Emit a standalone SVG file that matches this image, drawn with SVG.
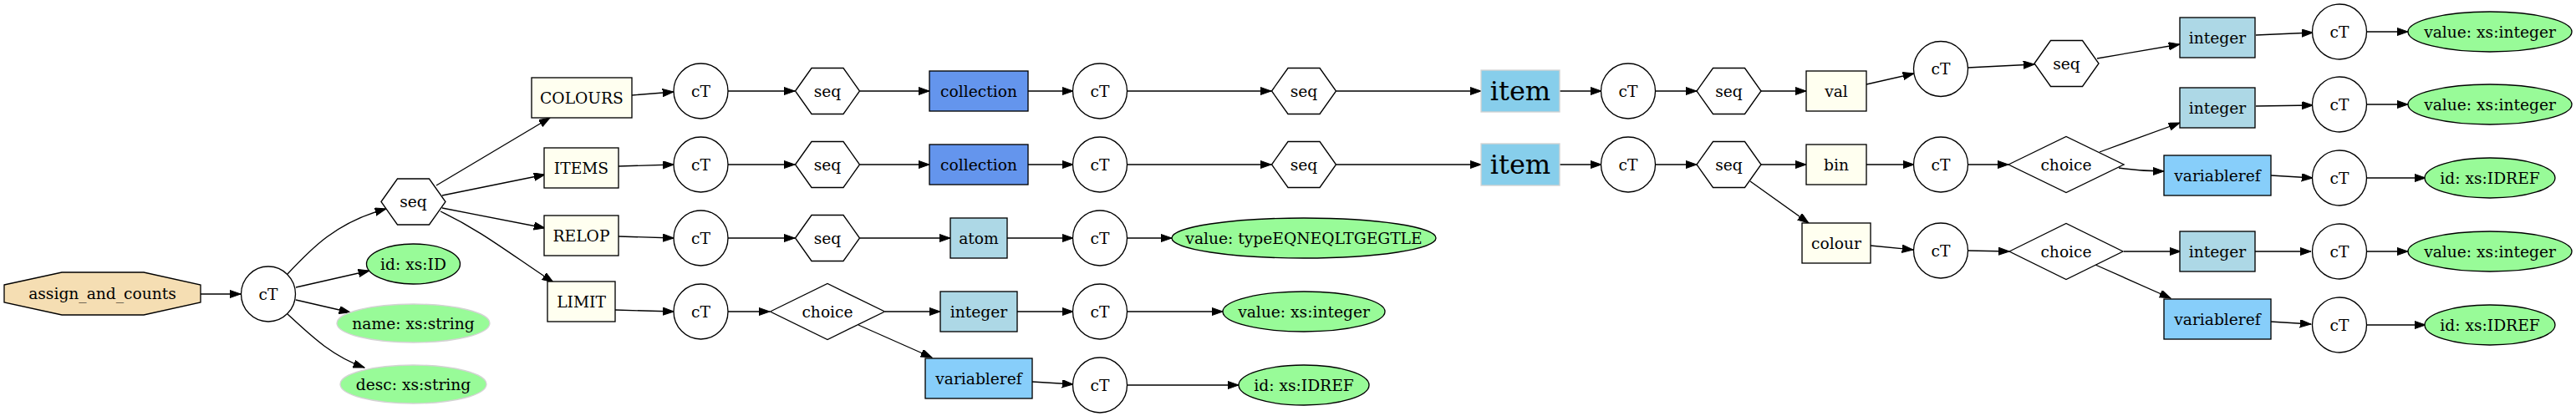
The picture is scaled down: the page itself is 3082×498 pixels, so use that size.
<svg xmlns="http://www.w3.org/2000/svg" width="3082" height="498" viewBox="0 0 3082 498">
<style>
text{font-family:"DejaVu Serif","Liberation Serif",serif;font-size:18.67px;text-anchor:middle;fill:#000}
.big{font-size:32px}
.n{stroke:#000;stroke-width:1.33;fill:#fff}
.box{stroke:#000;stroke-width:1.33;fill:#fffff0}
.int{stroke:#000;stroke-width:1.33;fill:#add8e6}
.var{stroke:#000;stroke-width:1.33;fill:#87cefa}
.col{stroke:#000;stroke-width:1.33;fill:#6495ed}
.item{stroke:#d3d3d3;stroke-width:1.33;fill:#87ceeb}
.att{stroke:#000;stroke-width:1.33;fill:#98fb98}
.att2{stroke:#d3d3d3;stroke-width:1.33;fill:#98fb98}
.root{stroke:#000;stroke-width:1.33;fill:#f5deb3}
#edges path{fill:none;stroke:#000;stroke-width:1.33;marker-end:url(#ah)}
</style>
<defs>
<marker id="ah" markerUnits="userSpaceOnUse" markerWidth="14" markerHeight="10" refX="13.3" refY="4.67" orient="auto">
<path d="M0,0 L13.3,4.67 L0,9.33 z" fill="#000" stroke="#000" stroke-width="1"/>
</marker>
</defs>
<rect width="3082" height="498" fill="#fff"/>
<g id="edges">
<path d="M240,352 L288,352"/>
<path d="M344,328 C372,298 402,266 462,250"/>
<path d="M354,344 L442,324"/>
<path d="M354,359 L419,374"/>
<path d="M344,376 C370,400 396,426 436,440"/>
<path d="M522,222 L658,141"/>
<path d="M529,234 L652,209"/>
<path d="M529,249 L652,273"/>
<path d="M527,253 C575,276 605,300 662,338"/>
<path d="M756,114 L806,110"/>
<path d="M871,109 L951,109"/>
<path d="M1029,109 L1112,109"/>
<path d="M1230,109 L1284,109"/>
<path d="M1348,109 L1521,109"/>
<path d="M1599,109 L1772,109"/>
<path d="M1866,109 L1916,109"/>
<path d="M1980,109 L2030,109"/>
<path d="M2107,109 L2161,109"/>
<path d="M2233,101 L2290,88"/>
<path d="M2354,81 L2434,77"/>
<path d="M2509,70 L2608,53"/>
<path d="M2699,42 L2767,39"/>
<path d="M2831,38 L2881,38"/>
<path d="M740,199 L806,197"/>
<path d="M871,197 L951,197"/>
<path d="M1029,197 L1112,197"/>
<path d="M1230,197 L1284,197"/>
<path d="M1348,197 L1521,197"/>
<path d="M1599,197 L1772,197"/>
<path d="M1866,197 L1916,197"/>
<path d="M1980,197 L2030,197"/>
<path d="M2107,197 L2161,197"/>
<path d="M2233,197 L2290,197"/>
<path d="M2354,197 L2403,197"/>
<path d="M2512,182 L2608,147"/>
<path d="M2699,127 L2767,126"/>
<path d="M2831,125 L2881,125"/>
<path d="M2535,201 C2555,204 2570,205 2589,205"/>
<path d="M2717,210 L2767,213"/>
<path d="M2831,213 L2902,213"/>
<path d="M2094,217 L2164,267"/>
<path d="M2238,294 L2289,299"/>
<path d="M2354,300 L2404,301"/>
<path d="M2541,301 L2609,301"/>
<path d="M2698,301 L2765,301"/>
<path d="M2831,301 L2881,301"/>
<path d="M2507,317 L2597,357"/>
<path d="M2716,385 L2765,388"/>
<path d="M2831,389 L2902,389"/>
<path d="M740,283 L806,285"/>
<path d="M871,285 L951,285"/>
<path d="M1029,285 L1137,285"/>
<path d="M1205,285 L1284,285"/>
<path d="M1348,285 L1402,285"/>
<path d="M736,371 L806,373"/>
<path d="M871,373 L921,373"/>
<path d="M1059,373 L1125,373"/>
<path d="M1217,373 L1284,373"/>
<path d="M1348,373 L1463,373"/>
<path d="M1027,389 L1115,428"/>
<path d="M1235,457 L1284,460"/>
<path d="M1348,461 L1482,461"/>
</g>
<g id="assign_and_counts"><polygon class="root" points="5,341 74,326 172,326 240,341 240,362 172,377 74,377 5,362"/><text x="122.5" y="358">assign_and_counts</text></g>
<g id="ct_root"><ellipse class="n" cx="321" cy="352" rx="32.5" ry="33"/><text x="321" y="358.5">cT</text></g>
<g id="seq_main"><polygon class="n" points="456,241.5 475.5,214 513.5,214 533,241.5 513.5,269 475.5,269"/><text x="494.5" y="248">seq</text></g>
<g id="att_id"><ellipse class="att" cx="494.5" cy="316" rx="56" ry="24"/><text x="494.5" y="322.5">id: xs:ID</text></g>
<g id="att_name"><ellipse class="att2" cx="494.5" cy="387" rx="91.5" ry="23"/><text x="494.5" y="393.5">name: xs:string</text></g>
<g id="att_desc"><ellipse class="att2" cx="494.5" cy="460" rx="87.5" ry="23"/><text x="494.5" y="466.5">desc: xs:string</text></g>
<g id="COLOURS"><rect class="box" x="636" y="93" width="120" height="48"/><text x="696" y="123.5">COLOURS</text></g>
<g id="ITEMS"><rect class="box" x="651" y="177" width="89" height="48"/><text x="695.5" y="207.5">ITEMS</text></g>
<g id="RELOP"><rect class="box" x="651" y="258" width="89" height="48"/><text x="695.5" y="288.5">RELOP</text></g>
<g id="LIMIT"><rect class="box" x="655" y="337" width="81" height="48"/><text x="695.5" y="367.5">LIMIT</text></g>
<g id="ct_r1a"><ellipse class="n" cx="838.5" cy="109" rx="32.5" ry="33"/><text x="838.5" y="115.5">cT</text></g>
<g id="ct_r2a"><ellipse class="n" cx="838.5" cy="197" rx="32.5" ry="33"/><text x="838.5" y="203.5">cT</text></g>
<g id="ct_r3a"><ellipse class="n" cx="838.5" cy="285" rx="32.5" ry="33"/><text x="838.5" y="291.5">cT</text></g>
<g id="ct_r4a"><ellipse class="n" cx="838.5" cy="373" rx="32.5" ry="33"/><text x="838.5" y="379.5">cT</text></g>
<g id="seq_r1a"><polygon class="n" points="951.5,109 971,81.5 1009,81.5 1028.5,109 1009,136.5 971,136.5"/><text x="990" y="115.5">seq</text></g>
<g id="seq_r2a"><polygon class="n" points="951.5,197 971,169.5 1009,169.5 1028.5,197 1009,224.5 971,224.5"/><text x="990" y="203.5">seq</text></g>
<g id="seq_r3a"><polygon class="n" points="951.5,285 971,257.5 1009,257.5 1028.5,285 1009,312.5 971,312.5"/><text x="990" y="291.5">seq</text></g>
<g id="choice_r4"><polygon class="n" points="921.5,373 990,339.5 1058.5,373 990,406.5"/><text x="990" y="379.5">choice</text></g>
<g id="collection_1"><rect class="col" x="1112" y="85" width="118" height="48"/><text x="1171" y="115.5">collection</text></g>
<g id="collection_2"><rect class="col" x="1112" y="173" width="118" height="48"/><text x="1171" y="203.5">collection</text></g>
<g id="atom"><rect class="int" x="1137" y="261" width="68" height="48"/><text x="1171" y="291.5">atom</text></g>
<g id="integer_r4"><rect class="int" x="1125" y="349" width="92" height="48"/><text x="1171" y="379.5">integer</text></g>
<g id="variableref_r4"><rect class="var" x="1107" y="429" width="128" height="48"/><text x="1171" y="459.5">variableref</text></g>
<g id="ct_r1b"><ellipse class="n" cx="1316" cy="109" rx="32.5" ry="33"/><text x="1316" y="115.5">cT</text></g>
<g id="ct_r2b"><ellipse class="n" cx="1316" cy="197" rx="32.5" ry="33"/><text x="1316" y="203.5">cT</text></g>
<g id="ct_r3b"><ellipse class="n" cx="1316" cy="285" rx="32.5" ry="33"/><text x="1316" y="291.5">cT</text></g>
<g id="ct_r4b"><ellipse class="n" cx="1316" cy="373" rx="32.5" ry="33"/><text x="1316" y="379.5">cT</text></g>
<g id="ct_r4c"><ellipse class="n" cx="1316" cy="461" rx="32.5" ry="33"/><text x="1316" y="467.5">cT</text></g>
<g id="seq_r1b"><polygon class="n" points="1521.5,109 1541,81.5 1579,81.5 1598.5,109 1579,136.5 1541,136.5"/><text x="1560" y="115.5">seq</text></g>
<g id="seq_r2b"><polygon class="n" points="1521.5,197 1541,169.5 1579,169.5 1598.5,197 1579,224.5 1541,224.5"/><text x="1560" y="203.5">seq</text></g>
<g id="val_relop"><ellipse class="att" cx="1560" cy="285" rx="158" ry="24"/><text x="1560" y="291.5">value: typeEQNEQLTGEGTLE</text></g>
<g id="val_limit"><ellipse class="att" cx="1560" cy="373" rx="97" ry="24"/><text x="1560" y="379.5">value: xs:integer</text></g>
<g id="id_limit"><ellipse class="att" cx="1560" cy="461" rx="78" ry="24"/><text x="1560" y="467.5">id: xs:IDREF</text></g>
<g id="item_1"><rect class="item" x="1772" y="84" width="94" height="50"/><text class="big" x="1819" y="120">item</text></g>
<g id="item_2"><rect class="item" x="1772" y="172" width="94" height="50"/><text class="big" x="1819" y="208">item</text></g>
<g id="ct_r1c"><ellipse class="n" cx="1948" cy="109" rx="32.5" ry="33"/><text x="1948" y="115.5">cT</text></g>
<g id="ct_r2c"><ellipse class="n" cx="1948" cy="197" rx="32.5" ry="33"/><text x="1948" y="203.5">cT</text></g>
<g id="seq_r1c"><polygon class="n" points="2030,109 2049.5,81.5 2087.5,81.5 2107,109 2087.5,136.5 2049.5,136.5"/><text x="2068.5" y="115.5">seq</text></g>
<g id="seq_r2c"><polygon class="n" points="2030,197 2049.5,169.5 2087.5,169.5 2107,197 2087.5,224.5 2049.5,224.5"/><text x="2068.5" y="203.5">seq</text></g>
<g id="val"><rect class="box" x="2161" y="85" width="72" height="48"/><text x="2197" y="115.5">val</text></g>
<g id="bin"><rect class="box" x="2161" y="173" width="72" height="48"/><text x="2197" y="203.5">bin</text></g>
<g id="colour"><rect class="box" x="2156" y="267" width="82" height="48"/><text x="2197" y="297.5">colour</text></g>
<g id="ct_val"><ellipse class="n" cx="2322" cy="82.5" rx="32.5" ry="33"/><text x="2322" y="89">cT</text></g>
<g id="ct_bin"><ellipse class="n" cx="2322" cy="197" rx="32.5" ry="33"/><text x="2322" y="203.5">cT</text></g>
<g id="ct_colour"><ellipse class="n" cx="2322" cy="300" rx="32.5" ry="33"/><text x="2322" y="306.5">cT</text></g>
<g id="seq_val"><polygon class="n" points="2434,76 2453.5,48.5 2491.5,48.5 2511,76 2491.5,103.5 2453.5,103.5"/><text x="2472.5" y="82.5">seq</text></g>
<g id="choice_bin"><polygon class="n" points="2403,197 2472,163.5 2541,197 2472,230.5"/><text x="2472" y="203.5">choice</text></g>
<g id="choice_colour"><polygon class="n" points="2404,301 2472,267.5 2540,301 2472,334.5"/><text x="2472" y="307.5">choice</text></g>
<g id="integer_val"><rect class="int" x="2608" y="21" width="90" height="48"/><text x="2653" y="51.5">integer</text></g>
<g id="integer_bin"><rect class="int" x="2608" y="105" width="90" height="48"/><text x="2653" y="135.5">integer</text></g>
<g id="variableref_bin"><rect class="var" x="2589" y="186" width="128" height="48"/><text x="2653" y="216.5">variableref</text></g>
<g id="integer_colour"><rect class="int" x="2608" y="277" width="90" height="48"/><text x="2653" y="307.5">integer</text></g>
<g id="variableref_colour"><rect class="var" x="2589" y="358" width="128" height="48"/><text x="2653" y="388.5">variableref</text></g>
<g id="ct_iv"><ellipse class="n" cx="2799" cy="38" rx="32.5" ry="33"/><text x="2799" y="44.5">cT</text></g>
<g id="ct_ib"><ellipse class="n" cx="2799" cy="125" rx="32.5" ry="33"/><text x="2799" y="131.5">cT</text></g>
<g id="ct_vb"><ellipse class="n" cx="2799" cy="213" rx="32.5" ry="33"/><text x="2799" y="219.5">cT</text></g>
<g id="ct_ic"><ellipse class="n" cx="2799" cy="301" rx="32.5" ry="33"/><text x="2799" y="307.5">cT</text></g>
<g id="ct_vc"><ellipse class="n" cx="2799" cy="389" rx="32.5" ry="33"/><text x="2799" y="395.5">cT</text></g>
<g id="value_iv"><ellipse class="att" cx="2979" cy="38" rx="98" ry="24"/><text x="2979" y="44.5">value: xs:integer</text></g>
<g id="value_ib"><ellipse class="att" cx="2979" cy="125" rx="98" ry="24"/><text x="2979" y="131.5">value: xs:integer</text></g>
<g id="id_vb"><ellipse class="att" cx="2979" cy="213" rx="78" ry="24"/><text x="2979" y="219.5">id: xs:IDREF</text></g>
<g id="value_ic"><ellipse class="att" cx="2979" cy="301" rx="98" ry="24"/><text x="2979" y="307.5">value: xs:integer</text></g>
<g id="id_vc"><ellipse class="att" cx="2979" cy="389" rx="78" ry="24"/><text x="2979" y="395.5">id: xs:IDREF</text></g>
</svg>
